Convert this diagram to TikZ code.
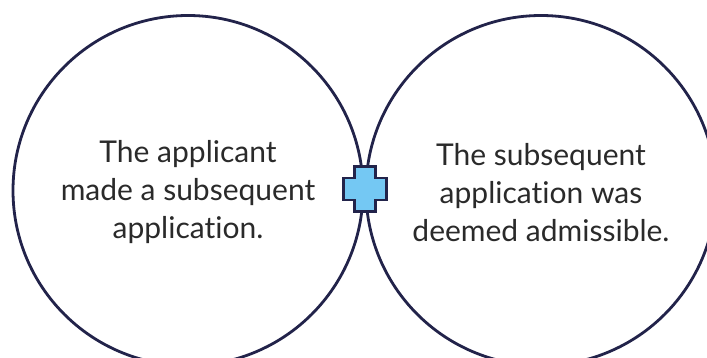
\documentclass[tikz,border=0pt]{standalone}
\usepackage{fontspec}
\setmainfont[Ligatures=NoCommon]{Lato}
\definecolor{ringnavy}{HTML}{22234A}
\definecolor{plusblue}{HTML}{74C8F3}
\definecolor{bodytext}{HTML}{2A2A2A}
\begin{document}
\begin{tikzpicture}[x=1pt,y=-1pt,
  ring/.style={circle, draw=ringnavy, line width=2.8pt, minimum size=350pt, inner sep=0pt},
  caption/.style={align=center, text=bodytext, font=\fontsize{30}{38}\selectfont, inner sep=0pt},
  plus/.style={draw=ringnavy, fill=plusblue, line width=2.8pt, line join=miter}]
  \useasboundingbox (0,0) rectangle (707,358);
  \clip (0,0) rectangle (707,358);
  \fill[white] (0,0) rectangle (707,358);
  % the two rings, touching in the middle
  \node[ring] (leftring) at (188,190.5) {};
  \node[ring] (rightring) at (541,190.5) {};
  % the plus sign where the rings meet
  \coordinate (pc) at (365,189);
  \draw[plus] ([shift={(-10.5,-22.5)}]pc) -- ([shift={(10.5,-22.5)}]pc)
    -- ([shift={(10.5,-11)}]pc) -- ([shift={(21.5,-11)}]pc)
    -- ([shift={(21.5,11)}]pc) -- ([shift={(10.5,11)}]pc)
    -- ([shift={(10.5,22.5)}]pc) -- ([shift={(-10.5,22.5)}]pc)
    -- ([shift={(-10.5,11)}]pc) -- ([shift={(-21.5,11)}]pc)
    -- ([shift={(-21.5,-11)}]pc) -- ([shift={(-10.5,-11)}]pc) -- cycle;
  % captions, a little below the ring centres
  \node[caption] (lefttext) at ([yshift=-2]leftring.center) {The applicant\\made a subsequent\\application.};
  \node[caption] (righttext) at ([yshift=-2]rightring.center) {The subsequent\\application was\\deemed admissible.};
\end{tikzpicture}
\end{document}
